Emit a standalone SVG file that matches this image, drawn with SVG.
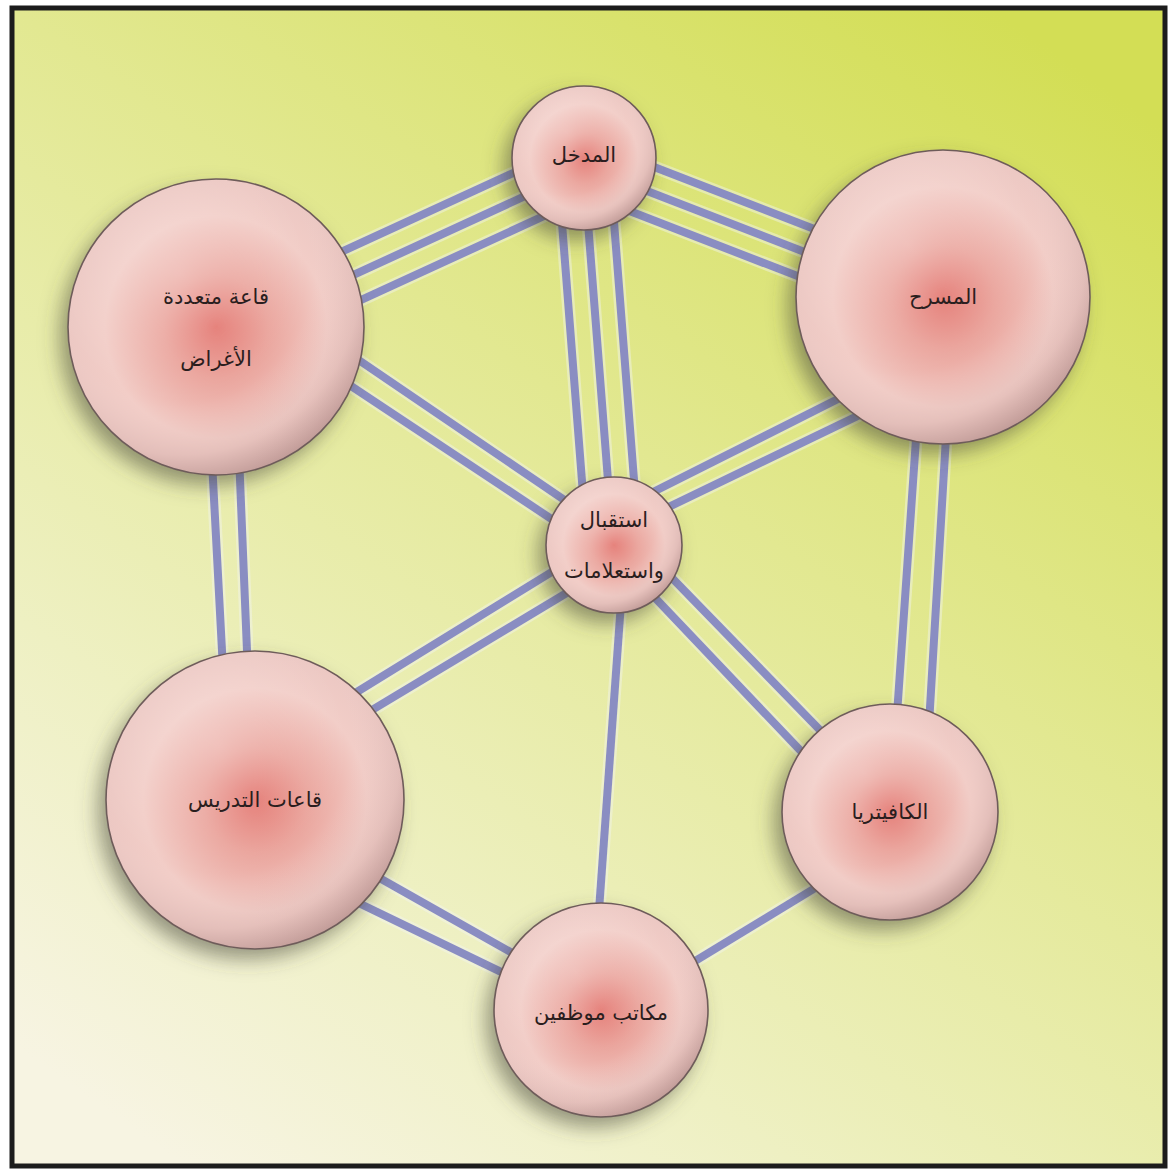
<svg xmlns="http://www.w3.org/2000/svg" width="1176" height="1176" viewBox="0 0 1176 1176">
<defs>
<linearGradient id="bg" x1="85%" y1="0%" x2="15%" y2="100%">
<stop offset="0" stop-color="#d3de55"/>
<stop offset="0.4" stop-color="#e2e891"/>
<stop offset="0.75" stop-color="#eef0c2"/>
<stop offset="1" stop-color="#f7f4e2"/>
</linearGradient>
<radialGradient id="ball" cx="50%" cy="50%" r="50%">
<stop offset="0" stop-color="#e2716a"/>
<stop offset="0.35" stop-color="#eaa39b"/>
<stop offset="0.75" stop-color="#f2cdc7"/>
<stop offset="1" stop-color="#ecc8c3"/>
</radialGradient>
<radialGradient id="shade" cx="38%" cy="32%" r="72%">
<stop offset="0" stop-color="#ffffff" stop-opacity="0.25"/>
<stop offset="0.6" stop-color="#ffffff" stop-opacity="0"/>
<stop offset="0.85" stop-color="#6a4040" stop-opacity="0.08"/>
<stop offset="1" stop-color="#5a3030" stop-opacity="0.3"/>
</radialGradient>
<filter id="shadow" x="-30%" y="-30%" width="160%" height="160%">
<feDropShadow dx="-8" dy="10" stdDeviation="10" flood-color="#4a4a3a" flood-opacity="0.55"/>
</filter>
</defs>
<style>
.halo{stroke:#f2f4f0;stroke-opacity:0.45;stroke-width:13;fill:none;stroke-linecap:butt}
.ln{stroke:#8a8dc2;stroke-width:8;fill:none;stroke-linecap:butt}
.base{fill:url(#ball);filter:url(#shadow)}
.sh{fill:url(#shade);stroke:#6e5c5a;stroke-width:1.6}
.lbl{font-family:"DejaVu Sans","Noto Sans",sans-serif;font-size:21px;fill:#2a1e1e;text-anchor:middle;dominant-baseline:central}
</style>
<rect x="0" y="0" width="1176" height="1176" fill="#ffffff"/>
<rect x="12" y="8" width="1153" height="1158" fill="url(#bg)" stroke="#1c1c1c" stroke-width="5"/>

<g id="connectors">
<g id="lines-halo" class="halo">
<path d="M577.3,143.5L209.3,312.5M588.2,167.1L220.2,336.1M599,190.7L231,359.7"/>
<path d="M590.1,142.2L949.1,281.2M581.1,165.5L940.1,304.5M572.1,188.8L931.1,327.8"/>
<path d="M557.1,160.1L587.1,547.1M583,158.1L613,545.1M608.9,156.1L638.9,543.1"/>
<path d="M330,340.5L584.8,513.9M323.7,367.9L578,536.6"/>
<path d="M636.2,500.5L865.7,385M650,516L879,405.6"/>
<path d="M210.9,440L224.6,700M238.4,440L249,700"/>
<path d="M917.3,420L893.9,760M947,420L926.9,760"/>
<path d="M326,711L575.5,557.3M342.7,727.6L585.7,581.5"/>
<path d="M656,561.5L844.9,755.7M639.3,581.3L824.6,776"/>
<path d="M621.9,590L597.6,930"/>
<path d="M356.9,865.3L541.8,969.7M340,894L533,987.4"/>
<path d="M674.4,973.6L832.6,877.4"/>
</g>
<g id="lines" class="ln">
<path d="M577.3,143.5L209.3,312.5M588.2,167.1L220.2,336.1M599,190.7L231,359.7"/>
<path d="M590.1,142.2L949.1,281.2M581.1,165.5L940.1,304.5M572.1,188.8L931.1,327.8"/>
<path d="M557.1,160.1L587.1,547.1M583,158.1L613,545.1M608.9,156.1L638.9,543.1"/>
<path d="M330,340.5L584.8,513.9M323.7,367.9L578,536.6"/>
<path d="M636.2,500.5L865.7,385M650,516L879,405.6"/>
<path d="M210.9,440L224.6,700M238.4,440L249,700"/>
<path d="M917.3,420L893.9,760M947,420L926.9,760"/>
<path d="M326,711L575.5,557.3M342.7,727.6L585.7,581.5"/>
<path d="M656,561.5L844.9,755.7M639.3,581.3L824.6,776"/>
<path d="M621.9,590L597.6,930"/>
<path d="M356.9,865.3L541.8,969.7M340,894L533,987.4"/>
<path d="M674.4,973.6L832.6,877.4"/>
</g>
</g>

<g id="node-entrance">
<circle class="base" cx="584" cy="158" r="72"/>
<circle class="sh" cx="584" cy="158" r="72"/>
<text class="lbl" x="584" y="155">المدخل</text>
</g>
<g id="node-theater">
<circle class="base" cx="943" cy="297" r="147"/>
<circle class="sh" cx="943" cy="297" r="147"/>
<text class="lbl" x="943" y="297">المسرح</text>
</g>
<g id="node-multipurpose">
<circle class="base" cx="216" cy="327" r="148"/>
<circle class="sh" cx="216" cy="327" r="148"/>
<text class="lbl" x="216" y="297">قاعة متعددة</text>
<text class="lbl" x="216" y="359">الأغراض</text>
</g>
<g id="node-reception">
<circle class="base" cx="614" cy="545" r="68"/>
<circle class="sh" cx="614" cy="545" r="68"/>
<text class="lbl" x="614" y="520">استقبال</text>
<text class="lbl" x="614" y="571">واستعلامات</text>
</g>
<g id="node-classrooms">
<circle class="base" cx="255" cy="800" r="149"/>
<circle class="sh" cx="255" cy="800" r="149"/>
<text class="lbl" x="255" y="800">قاعات التدريس</text>
</g>
<g id="node-cafeteria">
<circle class="base" cx="890" cy="812" r="108"/>
<circle class="sh" cx="890" cy="812" r="108"/>
<text class="lbl" x="890" y="812">الكافيتريا</text>
</g>
<g id="node-staff">
<circle class="base" cx="601" cy="1010" r="107"/>
<circle class="sh" cx="601" cy="1010" r="107"/>
<text class="lbl" x="601" y="1013">مكاتب موظفين</text>
</g>
</svg>
